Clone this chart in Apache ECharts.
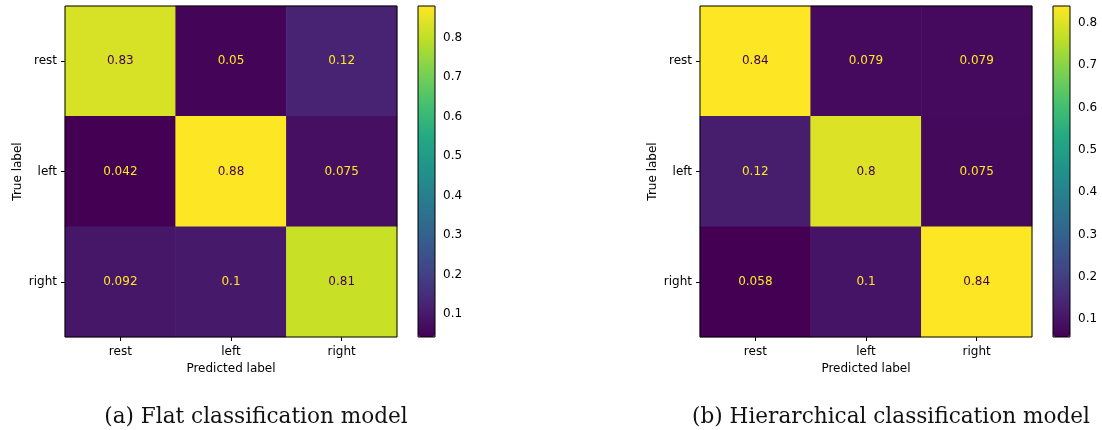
<!DOCTYPE html>
<html>
<head>
<meta charset="utf-8">
<script src="https://cdn.jsdelivr.net/npm/echarts@6/dist/echarts.min.js"></script>
<style>
  html, body { margin: 0; padding: 0; background: #fff; }
  #chart { width: 1102px; height: 430px; }
</style>
</head>
<body>
<div id="chart"></div>
<script>
// ---- data ----
const categories = ['rest', 'left', 'right'];

// (a) Flat classification model: rows = true label, columns = predicted label
const flatRest  = [0.83, 0.05, 0.12];
const flatLeft  = [0.042, 0.88, 0.075];
const flatRight = [0.092, 0.1, 0.81];

// (b) Hierarchical classification model
const hierRest  = [0.84, 0.079, 0.079];
const hierLeft  = [0.12, 0.8, 0.075];
const hierRight = [0.058, 0.1, 0.84];

const colorbarTicks = [0.1, 0.2, 0.3, 0.4, 0.5, 0.6, 0.7, 0.8];

const captions = ['(a) Flat classification model', '(b) Hierarchical classification model'];
const xAxisName = 'Predicted label';
const yAxisName = 'True label';

// ---- styling ----
const viridis = ['#440154', '#482475', '#414487', '#355f8d', '#2a788e', '#21918c',
                 '#22a884', '#44bf70', '#7ad151', '#bddf26', '#fde725'];
const VMIN = viridis[0], VMAX = viridis[viridis.length - 1];
const FONT = 'DejaVu Sans';

function buildCells(rows) {
  const all = rows.flat();
  const mn = Math.min(...all), mx = Math.max(...all);
  const thr = (mn + mx) / 2;
  const data = [];
  rows.forEach((row, i) => row.forEach((v, j) => {
    data.push({ value: [j, i, v], label: { color: v < thr ? VMAX : VMIN } });
  }));
  return { data, mn, mx };
}

const A = buildCells([flatRest, flatLeft, flatRight]);
const B = buildCells([hierRest, hierLeft, hierRight]);

const layout = [
  { heat: { left: 65, top: 6, width: 332, height: 331 }, bar: { left: 418, top: 6, width: 17, height: 331 }, cap: 256 },
  { heat: { left: 700, top: 6, width: 332, height: 331 }, bar: { left: 1053, top: 6, width: 17, height: 331 }, cap: 891 }
];

const grids = [], xAxes = [], yAxes = [], series = [], visualMaps = [], titles = [];
[A, B].forEach((M, k) => {
  const L = layout[k];
  const gHeat = grids.length;
  grids.push(Object.assign({ show: true, z: 10, backgroundColor: 'transparent', borderColor: '#000', borderWidth: 1 }, L.heat));
  const gBar = grids.length;
  grids.push(Object.assign({ show: true, z: 10, backgroundColor: 'transparent', borderColor: '#000', borderWidth: 1 }, L.bar));

  xAxes.push({
    type: 'category', gridIndex: gHeat, data: categories,
    axisLine: { show: false },
    axisTick: { show: true, alignWithLabel: true, length: 4, lineStyle: { color: '#000' } },
    axisLabel: { color: '#000', fontFamily: FONT, fontSize: 12, margin: 9 },
    splitLine: { show: false },
    name: xAxisName, nameLocation: 'middle', nameGap: 26,
    nameTextStyle: { color: '#000', fontFamily: FONT, fontSize: 12 }
  });
  yAxes.push({
    type: 'category', gridIndex: gHeat, data: categories, inverse: true,
    axisLine: { show: false },
    axisTick: { show: true, alignWithLabel: true, length: 4, lineStyle: { color: '#000' } },
    axisLabel: { color: '#000', fontFamily: FONT, fontSize: 12, margin: 8 },
    splitLine: { show: false },
    name: yAxisName, nameLocation: 'middle', nameGap: 41, nameRotate: 90,
    nameTextStyle: { color: '#000', fontFamily: FONT, fontSize: 12 }
  });

  xAxes.push({ type: 'value', gridIndex: gBar, show: false, min: 0, max: 1 });
  yAxes.push({
    type: 'value', gridIndex: gBar, position: 'right', min: M.mn, max: M.mx,
    axisLine: { show: false },
    axisTick: { show: true, length: 4, customValues: colorbarTicks, lineStyle: { color: '#000' } },
    axisLabel: { show: true, customValues: colorbarTicks, margin: 8, color: '#000', fontFamily: FONT, fontSize: 12,
                 formatter: v => Number(v).toFixed(1) },
    splitLine: { show: false }
  });

  series.push({
    type: 'heatmap', xAxisIndex: gHeat, yAxisIndex: gHeat, data: M.data,
    label: { show: true, fontFamily: FONT, fontSize: 12, formatter: p => String(p.value[2]) },
    emphasis: { disabled: true }, silent: true
  });

  visualMaps.push({
    type: 'continuous', seriesIndex: k, min: M.mn, max: M.mx,
    inRange: { color: viridis }, calculable: false, hoverLink: false,
    orient: 'vertical', left: L.bar.left, top: L.bar.top,
    itemWidth: L.bar.width, itemHeight: L.bar.height, padding: 0, z: 4
  });

  titles.push({
    text: captions[k], left: L.cap, top: 406, textAlign: 'center', padding: 0,
    textStyle: { fontFamily: 'DejaVu Serif', fontSize: 21.6, fontWeight: 'normal', color: '#111' }
  });
});

const chart = echarts.init(document.getElementById('chart'), null, { renderer: 'canvas' });
chart.setOption({
  animation: false,
  backgroundColor: '#fff',
  title: titles,
  grid: grids,
  xAxis: xAxes,
  yAxis: yAxes,
  visualMap: visualMaps,
  series: series
});
</script>
</body>
</html>
